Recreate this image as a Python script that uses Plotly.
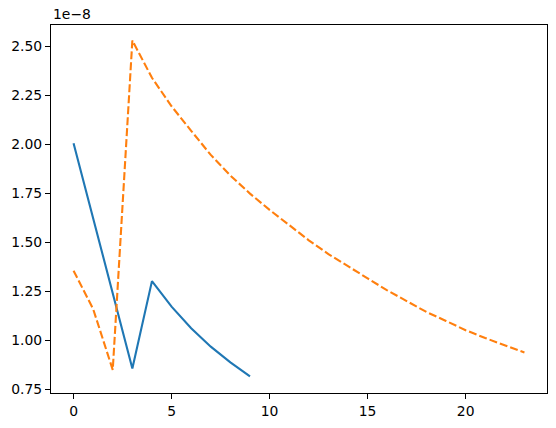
import plotly.graph_objects as go

# values are in units of 1e-8 (matplotlib offset label "1e-8")
blue_x = list(range(10))
blue_y = [2.005, 1.622, 1.238, 0.857, 1.302, 1.172, 1.062, 0.968, 0.888, 0.817]

orange_x = list(range(24))
orange_y = [1.355, 1.160, 0.850, 2.528, 2.338, 2.193, 2.068, 1.945, 1.840, 1.748,
            1.665, 1.587, 1.510, 1.440, 1.376, 1.316, 1.255, 1.200, 1.145, 1.099,
            1.052, 1.012, 0.974, 0.938]

y_ticks = [0.75, 1.00, 1.25, 1.50, 1.75, 2.00, 2.25, 2.50]
x_ticks = [0, 5, 10, 15, 20]

font = dict(family="DejaVu Sans", size=13.9, color="black")

fig = go.Figure()
fig.add_trace(go.Scatter(x=blue_x, y=blue_y, mode="lines",
                         line=dict(color="#1f77b4", width=2.1)))
fig.add_trace(go.Scatter(x=orange_x, y=orange_y, mode="lines",
                         line=dict(color="#ff7f0e", width=2.1, dash="8px,3px")))

axis_common = dict(showgrid=False, zeroline=False, showline=True, mirror=True,
                   linecolor="black", linewidth=1.1, ticks="outside", ticklen=5,
                   tickwidth=1.1, tickcolor="black", tickfont=font,
                   automargin=False)

fig.update_xaxes(range=[-1.15, 24.15], tickvals=x_ticks, **axis_common)
fig.update_yaxes(range=[0.732, 2.607], tickvals=y_ticks,
                 ticktext=[f"{v:.2f}" for v in y_ticks], **axis_common)

fig.add_annotation(text="1e\u22128", xref="paper", yref="paper", x=0, y=1,
                   xanchor="left", yanchor="bottom", showarrow=False,
                   font=font, yshift=1)

fig.update_layout(width=556, height=428, showlegend=False,
                  plot_bgcolor="white", paper_bgcolor="white",
                  margin=dict(l=51, r=9, t=25, b=35))

# drop the browser's default 8px body margin so the figure sits at 0,0
fig.write_html("out.html", config={"displayModeBar": False},
               post_script="document.body.style.margin='0';")
